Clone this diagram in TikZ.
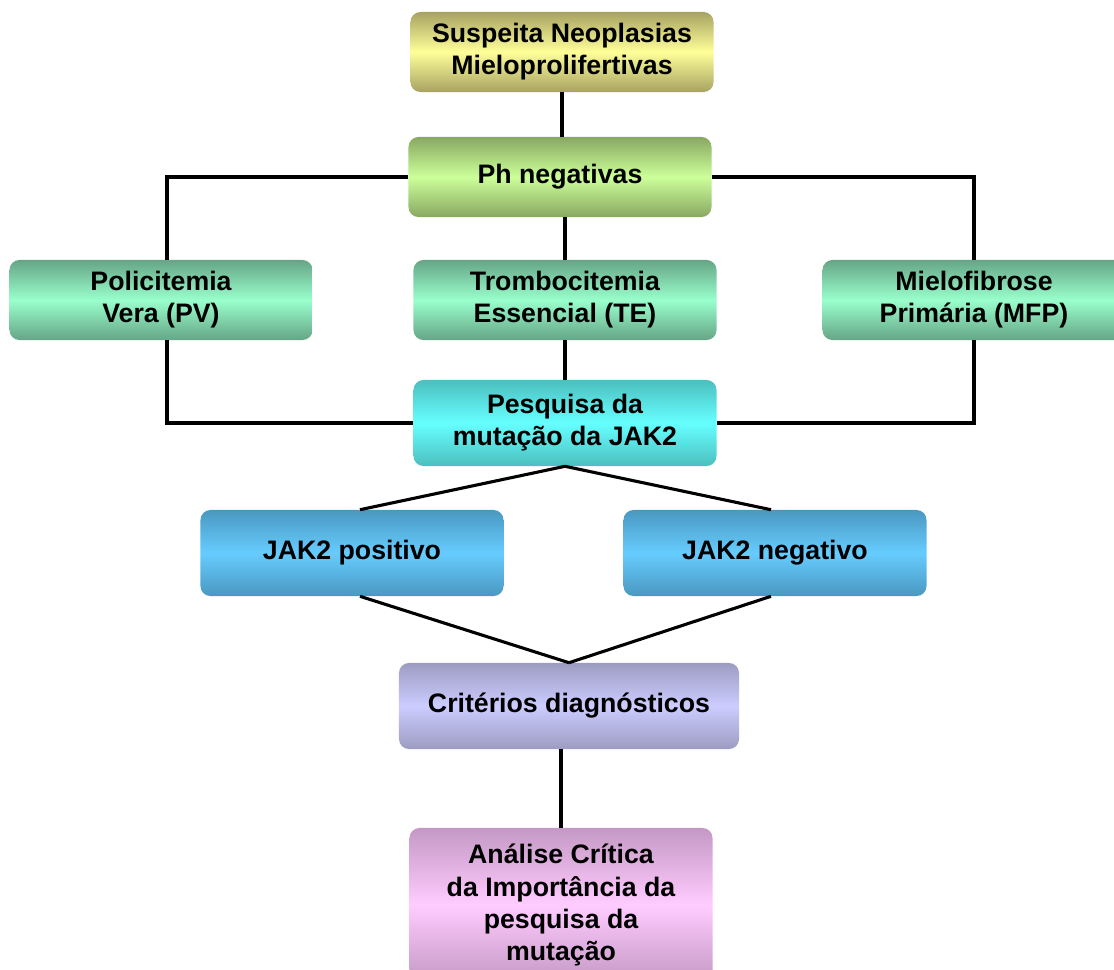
\documentclass[tikz,border=0pt]{standalone}
\usepackage{fontspec}
\setmainfont{Liberation Sans}
\usetikzlibrary{positioning}
\definecolor{suspedge}{HTML}{A8A262}
\definecolor{suspmid}{HTML}{FFFF99}
\definecolor{phedge}{HTML}{88A862}
\definecolor{phmid}{HTML}{CCFF99}
\definecolor{greenedge}{HTML}{66A586}
\definecolor{greenmid}{HTML}{99FFCC}
\definecolor{cyanedge}{HTML}{4CBFBF}
\definecolor{cyanmid}{HTML}{66FFFF}
\definecolor{blueedge}{HTML}{4A98C0}
\definecolor{bluemid}{HTML}{66CCFF}
\definecolor{lavedge}{HTML}{9C9CC2}
\definecolor{lavmid}{HTML}{CCCCFF}
\definecolor{pinkedge}{HTML}{C498C4}
\definecolor{pinkmid}{HTML}{FFCCFF}
\begin{document}
\begin{tikzpicture}[x=0.025cm,y=-0.025cm,
  box/.style={rounded corners=0.25cm,minimum width=7.575cm,minimum height=2cm,
    align=center,inner sep=0pt,font=\bfseries\fontsize{19}{22.8}\selectfont},
  shadebox/.style 2 args={box,top color=#1,bottom color=#1,middle color=#2},
  line/.style={line width=2.2pt}]
\useasboundingbox (0,0) rectangle (1114,969);
%top of the chart
\node[shadebox={suspedge}{suspmid}] (susp) at (562,52) {Suspeita Neoplasias\\Mieloprolifertivas};
\node[shadebox={phedge}{phmid}] (ph) at (560,177) {Ph negativas};
%the three diseases
\node[shadebox={greenedge}{greenmid}] (pv) at (161,300) {Policitemia\\Vera (PV)};
\node[shadebox={greenedge}{greenmid}] (te) at (565,300) {Trombocitemia\\Essencial (TE)};
\node[shadebox={greenedge}{greenmid}] (mfp) at (974,300) {Mielofibrose\\Primária (MFP)};
%JAK2 test and results
\node[shadebox={cyanedge}{cyanmid},minimum height=2.15cm] (jak) at (565,423) {Pesquisa da\\mutação da JAK2};
\node[shadebox={blueedge}{bluemid},minimum height=2.15cm] (pos) at (352,553) {JAK2 positivo};
\node[shadebox={blueedge}{bluemid},minimum height=2.15cm] (neg) at (775,553) {JAK2 negativo};
%bottom of the chart
\node[shadebox={lavedge}{lavmid},minimum width=8.5cm,minimum height=2.15cm] (crit) at (569,706) {Critérios diagnósticos};
\node[shadebox={pinkedge}{pinkmid},minimum height=3.85cm] (anal) at (561,905) {Análise Crítica\\da Importância da\\pesquisa da\\mutação};
%connectors
\draw[line] (susp.south) -- (susp.south |- ph.north);
\draw[line] (ph.west) -| ([xshift=0.15cm]pv.north);
\draw[line] (ph.east) -| (mfp.north);
\draw[line] (te.north |- ph.south) -- (te.north);
\draw[line] ([xshift=0.15cm]pv.south) |- (jak.west);
\draw[line] (te.south) -- (jak.north);
\draw[line] (mfp.south) |- (jak.east);
\draw[line] (jak.south) -- ([xshift=0.2cm]pos.north);
\draw[line] (jak.south) -- ([xshift=-0.1cm]neg.north);
\draw[line] ([xshift=0.2cm]pos.south) -- (crit.north);
\draw[line] ([xshift=-0.1cm]neg.south) -- (crit.north);
\draw[line] (anal.north |- crit.south) -- (anal.north);
\end{tikzpicture}
\end{document}
